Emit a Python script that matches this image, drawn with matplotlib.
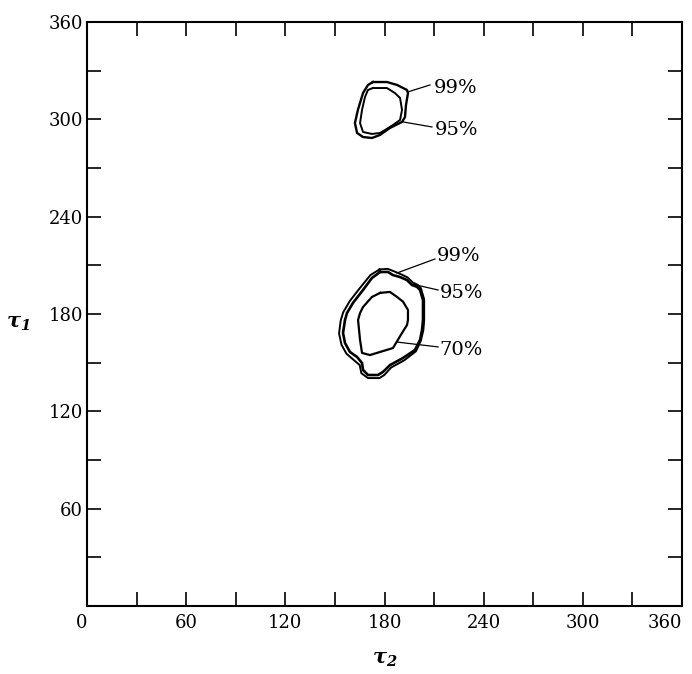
import numpy as np
import matplotlib
matplotlib.use("Agg")
import matplotlib.pyplot as plt

# contour outlines (tau2, tau1)
lower_99_x = [177, 182, 186, 190, 194, 197, 200, 202, 204, 204, 203.5, 202, 199, 192, 184, 180,
              177, 170, 166, 165, 161, 157, 154, 152.5, 153.5, 155, 159, 165.5, 171.5]
lower_99_y = [207.5, 207.8, 206.2, 204.5, 202.5, 199.5, 198, 196, 189, 176, 170, 163.5, 157, 151.5,
              147, 142.5, 140.5, 140.5, 143.5, 148.5, 152, 155.5, 161, 168, 176, 181, 188, 196.5, 204]

lower_95_x = [177.3, 182.1, 185.1, 189.4, 193.6, 196.6, 199.7, 201.5, 203.3, 203.3, 202.7, 201.5,
              198.4, 191.2, 183.3, 179.1, 176.1, 170.0, 167.0, 166.4, 163.4, 159.1, 156.1, 154.9,
              156.1, 157.3, 160.9, 167.0, 172.4]
lower_95_y = [205.9, 205.9, 204.0, 202.8, 200.9, 197.9, 196.7, 194.8, 188.6, 176.3, 170.1, 164.0,
              157.8, 152.9, 148.5, 144.3, 142.4, 142.4, 145.5, 149.8, 153.5, 156.6, 162.1, 168.3,
              176.3, 180.6, 186.8, 194.8, 202.2]

lower_70_x = [177.3, 183.3, 187.6, 191.2, 194.2, 194.2, 193.6, 190.6, 185.1, 177.3, 171.2, 166.4,
              165.2, 164.0, 165.2, 167.0, 172.4]
lower_70_y = [193.0, 193.6, 190.5, 187.6, 182.5, 176.3, 173.2, 168.3, 159.0, 156.6, 154.7, 156.0,
              164.0, 176.3, 180.6, 184.3, 190.5]

upper_99_x = [173.0, 181.5, 187.6, 193.6, 194.2, 193.0, 192.4, 190.6, 183.3, 177.3, 172.4, 167.0,
              163.4, 162.1, 163.9, 167.0, 170.0]
upper_99_y = [323.0, 323.0, 321.2, 318.1, 316.2, 308.8, 301.4, 298.4, 294.7, 290.4, 288.5, 289.1,
              291.6, 297.7, 305.8, 316.2, 321.2]

upper_95_x = [173.0, 181.5, 186.3, 189.4, 190.6, 189.4, 185.1, 180.3, 177.3, 172.4, 167.0, 165.2,
              166.4, 168.2, 170.0]
upper_95_y = [319.3, 319.3, 316.2, 313.2, 305.8, 299.6, 296.5, 293.4, 291.6, 291.0, 292.2, 297.7,
              305.8, 313.8, 318.1]

# labels: text, text position, leader start (on contour), leader end
labels = ["99%", "95%", "99%", "95%", "70%"]
label_pos = [(209.5, 319.5), (210.5, 293.5), (211.5, 215.5), (213.5, 193.0), (213.5, 158.0)]
leader_start = [(194.2, 316.9), (191.2, 298.4), (187.6, 205.3), (196.6, 198.5), (187.6, 162.7)]
leader_end = [(207.5, 321.2), (208.7, 295.3), (210.5, 213.9), (212.4, 194.8), (212.4, 159.7)]

plt.rcParams['font.family'] = ['DejaVu Serif']
plt.rcParams['mathtext.fontset'] = 'custom'
plt.rcParams['mathtext.rm'] = 'DejaVu Serif'
plt.rcParams['mathtext.it'] = 'DejaVu Serif:italic'
plt.rcParams['mathtext.bf'] = 'DejaVu Serif:italic:bold'

fig = plt.figure(figsize=(6.92, 6.74), dpi=100)
ax = fig.add_axes([87 / 692, 1 - 606 / 674, 595 / 692, 584 / 674])


def closed(xs, ys):
    return list(xs) + [xs[0]], list(ys) + [ys[0]]


for xs, ys, lw in [(lower_99_x, lower_99_y, 1.4), (lower_95_x, lower_95_y, 1.9),
                   (lower_70_x, lower_70_y, 1.6), (upper_99_x, upper_99_y, 1.7),
                   (upper_95_x, upper_95_y, 1.4)]:
    cx, cy = closed(xs, ys)
    ax.plot(cx, cy, color='black', lw=lw, solid_joinstyle='round')

for t, p, s, e in zip(labels, label_pos, leader_start, leader_end):
    ax.plot([s[0], e[0]], [s[1], e[1]], color='black', lw=0.9)
    ax.text(p[0], p[1], t, fontsize=14, va='center', ha='left')

ax.set_xlim(0, 360)
ax.set_ylim(0, 360)
ax.set_xticks(np.arange(0, 361, 60))
ax.set_yticks(np.arange(60, 361, 60))
ax.set_xticks(np.arange(0, 361, 30), minor=True)
ax.set_yticks(np.arange(0, 361, 30), minor=True)
ax.tick_params(which='both', direction='in', top=True, right=True, length=10, width=1.2,
               labelsize=13)
ax.tick_params(axis='x', pad=6)
ax.tick_params(axis='y', pad=3)
xlabels = ax.get_xticklabels()
xlabels[0].set_horizontalalignment('right')
xlabels[-1].set_horizontalalignment('right')
for sp in ax.spines.values():
    sp.set_linewidth(1.5)

ax.set_xlabel(r'$\mathbf{\tau_2}$', fontsize=15, labelpad=13)
ax.set_ylabel(r'$\mathbf{\tau_1}$', fontsize=15, rotation=0, labelpad=22, va='top')

fig.savefig('out.png', dpi=100)
